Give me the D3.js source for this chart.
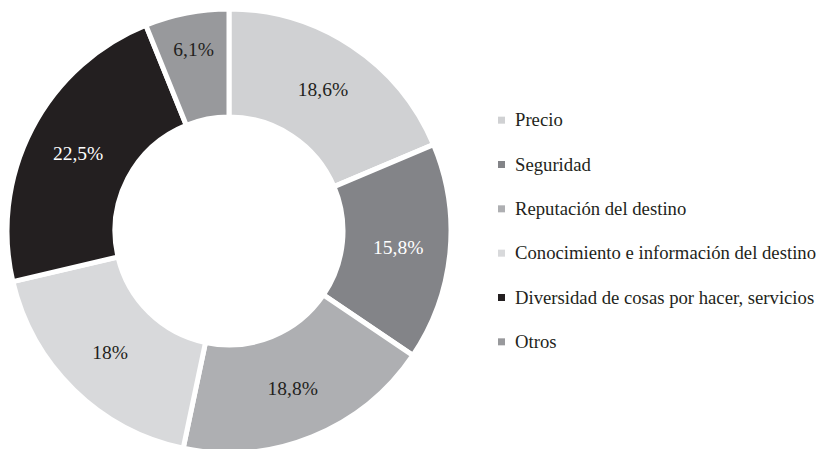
<!DOCTYPE html>
<html lang="es">
<head>
  <meta charset="UTF-8">
  <title>Donut</title>
  <script src="https://d3js.org/d3.v7.min.js"></script>
  <style>
    body { margin: 0; background: #fff; }
  </style>
</head>
<body>
  <svg width="820" height="449"></svg>
<script>
  // datos
  const categories = ['Precio', 'Seguridad', 'Reputación del destino',
    'Conocimiento e información del destino', 'Diversidad de cosas por hacer, servicios', 'Otros'];
  const values = [18.6, 15.8, 18.8, 18, 22.5, 6.1];
  const labels = ['18,6%', '15,8%', '18,8%', '18%', '22,5%', '6,1%'];
  const colors = ['#d0d1d3', '#838488', '#aeafb2', '#d8d9db', '#231f20', '#98999c'];

  const font = "'Liberation Serif', Tinos, 'Times New Roman', Times, serif";

  const svg = d3.select('svg');
  const cx = 229, cy = 231;
  const outerR = 222, innerR = 114;

  const data = categories.map((c, i) => ({ name: c, value: values[i], label: labels[i], color: colors[i] }));

  const pie = d3.pie().value(d => d.value).sort(null);
  const arc = d3.arc().innerRadius(innerR).outerRadius(outerR);
  const labelArc = d3.arc().innerRadius(170).outerRadius(170);

  const g = svg.append('g').attr('transform', 'translate(' + cx + ',' + cy + ')');

  const slices = g.selectAll('g.slice')
    .data(pie(data))
    .enter()
    .append('g')
    .attr('class', 'slice');

  slices.append('path')
    .attr('d', arc)
    .attr('fill', d => d.data.color)
    .attr('stroke', '#fff')
    .attr('stroke-width', 5);

  slices.append('text')
    .attr('transform', d => {
      let [x, y] = labelArc.centroid(d);
      // las porciones pequeñas llevan la etiqueta más afuera
      if (d.endAngle - d.startAngle < 0.5) { x *= 1.09; y *= 1.09; }
      return 'translate(' + x + ',' + y + ')';
    })
    .attr('text-anchor', 'middle')
    .attr('dy', '0.35em')
    .attr('font-family', font)
    .attr('font-size', '19.5px')
    .attr('fill', d => d.data.color === '#231f20' || d.data.color === '#838488' ? '#fff' : '#231f20')
    .text(d => d.data.label);

  // leyenda
  const legendY = d3.scaleBand()
    .domain(categories)
    .range([98, 364]);

  const legend = svg.append('g')
    .selectAll('g')
    .data(data)
    .enter()
    .append('g')
    .attr('transform', d => 'translate(498,' + (legendY(d.name) + legendY.bandwidth() / 2) + ')');

  legend.append('rect')
    .attr('x', 0)
    .attr('y', -3.5)
    .attr('width', 7)
    .attr('height', 7)
    .attr('fill', d => d.color);

  legend.append('text')
    .attr('x', 17)
    .attr('dy', '0.33em')
    .attr('font-family', font)
    .attr('font-size', '18.7px')
    .attr('fill', '#231f20')
    .text(d => d.name);
</script>
</body>
</html>
